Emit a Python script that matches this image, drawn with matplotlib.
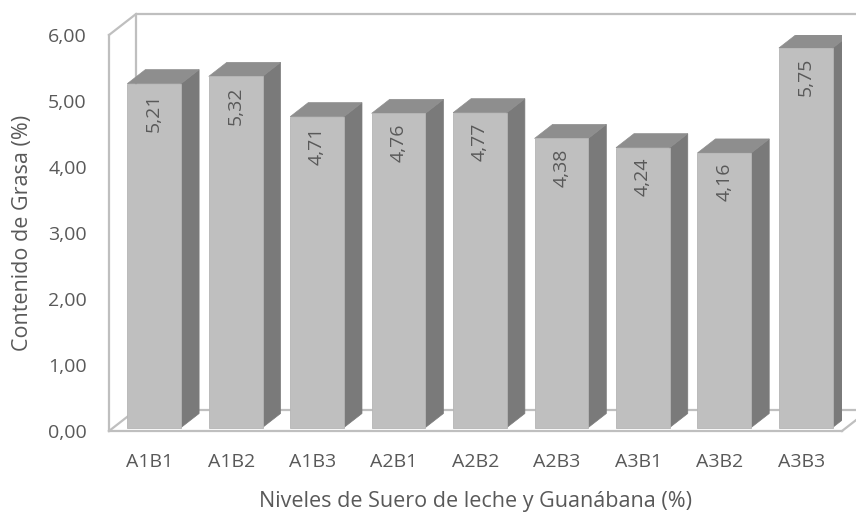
import matplotlib
matplotlib.use("Agg")
import matplotlib.pyplot as plt
from matplotlib.patches import Polygon, Rectangle
from matplotlib.transforms import ScaledTranslation
from matplotlib.lines import Line2D

plt.rcParams['font.family'] = ['Open Sans', 'DejaVu Sans']

# Treatments and fat content
categories = ["A1B1", "A1B2", "A1B3", "A2B1", "A2B2", "A2B3", "A3B1", "A3B2", "A3B3"]
grasa = [5.21, 5.32, 4.71, 4.76, 4.77, 4.38, 4.24, 4.16, 5.75]
y_ticks = [0, 1, 2, 3, 4, 5, 6]
y_tick_labels = ["0,00", "1,00", "2,00", "3,00", "4,00", "5,00", "6,00"]
value_labels = ["5,21", "5,32", "4,71", "4,76", "4,77", "4,38", "4,24", "4,16", "5,75"]
x_title = "Niveles de Suero de leche y Guanábana (%)"
y_title = "Contenido de Grasa (%)"

TEXT = "#595959"
FRAME = "#BFBFBF"
FRONT = "#BFBFBF"
TOP = "#8E8E8E"
SIDE = "#7A7A7A"

W, H, DPI = 856, 512, 100
fig = plt.figure(figsize=(W / DPI, H / DPI), dpi=DPI)

# front plane of the 3-D box, in pixels
left_px, right_px, bottom_px, top_px = 109, 842, 431, 35
ax = fig.add_axes([left_px / W, 1 - bottom_px / H,
                   (right_px - left_px) / W, (bottom_px - top_px) / H])
ax.set_xlim(-0.5, len(categories) - 0.5)
ax.set_ylim(0, 6)
for s in ax.spines.values():
    s.set_visible(False)
ax.set_facecolor("none")

n = len(categories)
px_per_x = (right_px - left_px) / n
px_per_y = (bottom_px - top_px) / 6.0

# depth of the box and of the bars (pixels)
box_dx, box_dy = 27, 21
bar_front_dx, bar_front_dy = 4.5, 3.5
bar_dx, bar_dy = 18, 14


def shift(dx_px, dy_px):
    return ax.transData + ScaledTranslation(dx_px / DPI, dy_px / DPI, fig.dpi_scale_trans)


# back wall and floor lines (behind bars)
back = shift(box_dx, box_dy)
lw = 1.6
x0, x1 = -0.5, n - 0.5
ax.add_line(Line2D([x0, x0, x1 + 1], [0, 6, 6], color=FRAME, lw=lw, transform=back, clip_on=False, zorder=1))
ax.add_line(Line2D([x0, x1 + 1], [0, 0], color=FRAME, lw=lw, transform=back, clip_on=False, zorder=1))
ax.add_line(Line2D([x1, x1], [0, 6], color=FRAME, lw=lw, transform=back, clip_on=False, zorder=1))

# bars
bw = 0.66
ddx = bar_dx / px_per_x
ddy = bar_dy / px_per_y
bt = shift(bar_front_dx, bar_front_dy)
for i, v in enumerate(grasa):
    xl, xr = i - bw / 2, i + bw / 2
    side = Polygon([(xr, 0), (xr + ddx, ddy), (xr + ddx, v + ddy), (xr, v)],
                   closed=True, facecolor=SIDE, edgecolor=SIDE, lw=0.5, transform=bt, zorder=3)
    top = Polygon([(xl, v), (xr, v), (xr + ddx, v + ddy), (xl + ddx, v + ddy)],
                  closed=True, facecolor=TOP, edgecolor=TOP, lw=0.5, transform=bt, zorder=3)
    front = Rectangle((xl, 0), bw, v, facecolor=FRONT, edgecolor="#B5B5B5", lw=0.6,
                      transform=bt, zorder=4)
    ax.add_patch(side)
    ax.add_patch(top)
    ax.add_patch(front)
    ax.annotate(value_labels[i], xy=(i, v), xycoords=bt,
                xytext=(0, -7), textcoords="offset points",
                rotation=90, ha="center", va="top", fontsize=14, color=TEXT, zorder=5)

# front edges and left connecting diagonals
ax.add_line(Line2D([x0, x0], [0, 6], color=FRAME, lw=lw, clip_on=False, zorder=2))
ax.add_line(Line2D([x0, x1], [0, 0], color=FRAME, lw=lw, clip_on=False, zorder=6))
dxd = box_dx / px_per_x
dyd = box_dy / px_per_y
ax.add_line(Line2D([x0, x0 + dxd], [6, 6 + dyd], color=FRAME, lw=lw, clip_on=False, zorder=1))
ax.add_line(Line2D([x0, x0 + dxd], [0, dyd], color=FRAME, lw=lw, clip_on=False, zorder=2))
ax.add_line(Line2D([x1, x1 + dxd], [0, dyd], color=FRAME, lw=lw, clip_on=False, zorder=6))

ax.set_xticks(range(n))
ax.set_xticklabels(categories)
ax.set_yticks(y_ticks)
ax.set_yticklabels(y_tick_labels)
ax.tick_params(axis="both", length=0, labelsize=14, colors=TEXT)
ax.tick_params(axis="y", pad=16)
ax.tick_params(axis="x", pad=16)

ax.set_xlabel(x_title, fontsize=15.5, color=TEXT, labelpad=14)
ax.set_ylabel(y_title, fontsize=15.5, color=TEXT, labelpad=11)

fig.savefig("out.png", dpi=DPI, facecolor="white")
